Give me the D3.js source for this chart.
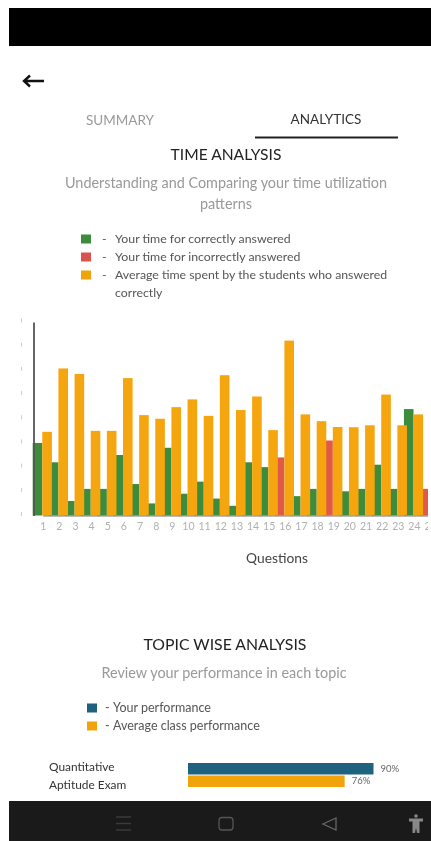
<!DOCTYPE html>
<html>
<head>
<meta charset="utf-8">
<script src="https://cdn.jsdelivr.net/npm/d3@7"></script>
<style>
  html, body { margin: 0; padding: 0; background: #fff; overflow: hidden; }
  svg { display: block; font-family: Lato, sans-serif; filter: blur(0.4px); }
</style>
</head>
<body>
<svg id="page" width="431" height="841"></svg>
<script>
var questions = d3.range(1, 26);
var yourTime = [3.0, 2.2, 0.6, 1.1, 1.1, 2.5, 1.3, 0.5, 2.8, 0.9, 1.4, 0.7, 0.4, 2.2, 2.0, 2.4, 0.8, 1.1, 3.1, 1.0, 1.1, 2.1, 1.1, 4.4, 1.1];
var answeredRight = [1, 1, 1, 1, 1, 1, 1, 1, 1, 1, 1, 1, 1, 1, 1, 0, 1, 1, 0, 1, 1, 1, 1, 1, 0];
var averageTime = [3.46, 6.08, 5.85, 3.5, 3.5, 5.68, 4.15, 4.0, 4.48, 4.8, 4.12, 5.8, 4.36, 4.92, 3.53, 7.23, 4.18, 3.9, 3.66, 3.65, 3.73, 5.0, 3.73, 4.18];
var yTicks = [0, 1, 2, 3, 4, 5, 6, 7, 8];

var timeLegend = [
  ["#3d8b3d", ["Your time for correctly answered"]],
  ["#d9534f", ["Your time for incorrectly answered"]],
  ["#f0a30a", ["Average time spent by the students who answered", "correctly"]]
];
var topicLegend = [
  ["#1f6280", "Your performance"],
  ["#f0a30a", "Average class performance"]
];
var topicNames = ["Quantitative", "Aptitude Exam"];
var topicValues = [90, 76];
var topicColors = ["#1f6280", "#f0a30a"];

var svg = d3.select("#page");

function label(x, y, str, size, color, anchor) {
  return svg.append("text")
    .attr("x", x)
    .attr("y", y)
    .attr("font-size", size)
    .attr("fill", color)
    .attr("text-anchor", anchor || "start")
    .text(str);
}

// phone chrome
svg.append("rect").attr("x", 9).attr("y", 8).attr("width", 422).attr("height", 38).attr("fill", "#000");
svg.append("rect").attr("x", 9).attr("y", 801).attr("width", 422).attr("height", 40).attr("fill", "#1a1a1a");

// back arrow
svg.append("path")
  .attr("d", "M44 81H24M30 75.5l-6 5.5 6 5.5")
  .attr("fill", "none")
  .attr("stroke", "#111")
  .attr("stroke-width", 2.4);

// tabs
label(120, 125, "SUMMARY", 13.5, "#999", "middle");
label(326, 124, "ANALYTICS", 13.5, "#333", "middle");
svg.append("rect").attr("x", 255).attr("y", 136.5).attr("width", 143).attr("height", 2).attr("fill", "#222");

label(226, 160, "TIME ANALYSIS", 15.6, "#222", "middle");
label(226, 188, "Understanding and Comparing your time utilization", 14.4, "#999", "middle");
label(226, 209, "patterns", 14.4, "#999", "middle");

// first legend
var legendY = [239, 257, 275];
timeLegend.forEach(function (d, i) {
  svg.append("rect").attr("x", 81).attr("y", legendY[i] - 4.5).attr("width", 10).attr("height", 9).attr("fill", d[0]);
  label(102, legendY[i] + 4, "-", 12.3, "#555");
  d[1].forEach(function (line, j) {
    label(115, legendY[i] + 4 + j * 18, line, 12.3, "#555");
  });
});

// time chart
var clip = svg.append("defs").append("clipPath").attr("id", "chartClip");
clip.append("rect").attr("x", 0).attr("y", 300).attr("width", 428).attr("height", 240);

var x = d3.scalePoint().domain(questions).range([42.7, 42.7 + 24 * 16.14]);
var y = d3.scaleLinear().domain([0, 8]).range([515.5, 322]);
var barW = 9.6;

var chart = svg.append("g").attr("clip-path", "url(#chartClip)");

chart.selectAll("rect.yours")
  .data(questions)
  .join("rect")
  .attr("class", "yours")
  .attr("x", function (q) { return x(q) - barW - 0.4; })
  .attr("y", function (q, i) { return y(yourTime[i]); })
  .attr("width", barW)
  .attr("height", function (q, i) { return y(0) - y(yourTime[i]); })
  .attr("fill", function (q, i) { return answeredRight[i] ? "#3d8b3d" : "#e05a47"; });

chart.selectAll("rect.average")
  .data(averageTime)
  .join("rect")
  .attr("class", "average")
  .attr("x", function (d, i) { return x(questions[i]) - 0.4; })
  .attr("y", function (d) { return y(d); })
  .attr("width", barW)
  .attr("height", function (d) { return y(0) - y(d); })
  .attr("fill", "#f5a50e");

var xAxis = chart.append("g")
  .attr("transform", "translate(0,515.5)")
  .call(d3.axisBottom(x).tickSize(0).tickPadding(7));
xAxis.select(".domain").attr("stroke", "#777").attr("stroke-width", 1.2);
xAxis.selectAll("text").attr("font-size", 10.5).attr("font-family", "Lato, sans-serif").attr("fill", "#b0b0b0");

var yAxis = svg.append("g")
  .attr("transform", "translate(33.5,0)")
  .call(d3.axisLeft(y).tickValues(yTicks).tickSize(0).tickFormat(""));
yAxis.select(".domain").attr("stroke", "#555").attr("stroke-width", 1.8);

svg.selectAll("rect.tickmark")
  .data(yTicks)
  .join("rect")
  .attr("class", "tickmark")
  .attr("x", 21)
  .attr("y", function (d) { return y(d) - 3.5; })
  .attr("width", 1)
  .attr("height", 4)
  .attr("fill", "#ccc");

label(277, 563, "Questions", 13.8, "#444", "middle");

// topic section
label(225, 650, "TOPIC WISE ANALYSIS", 15.8, "#222", "middle");
label(224, 678, "Review your performance in each topic", 14.4, "#999", "middle");

topicLegend.forEach(function (d, i) {
  var ly = 708 + i * 18;
  svg.append("rect").attr("x", 87).attr("y", ly - 4.5).attr("width", 10).attr("height", 9).attr("fill", d[0]);
  label(105, ly + 4, "-", 12.5, "#555");
  label(113, ly + 4, d[1], 12.5, "#555");
});

var topicX = d3.scaleLinear().domain([0, 90]).range([188, 373.5]);
var topicY = d3.scaleBand().domain(topicValues).range([763, 787]).paddingInner(0.08);

topicNames.forEach(function (n, i) {
  label(49, 771 + i * 18, n, 11.9, "#333");
});

svg.selectAll("rect.topic")
  .data(topicValues)
  .join("rect")
  .attr("class", "topic")
  .attr("x", topicX(0))
  .attr("y", function (d) { return topicY(d); })
  .attr("width", function (d) { return topicX(d) - topicX(0); })
  .attr("height", topicY.bandwidth())
  .attr("fill", function (d, i) { return topicColors[i]; });

svg.selectAll("text.topicValue")
  .data(topicValues)
  .join("text")
  .attr("class", "topicValue")
  .attr("x", function (d) { return topicX(d) + 7; })
  .attr("y", function (d, i) { return topicY(d) + (i ? 8 : 9); })
  .attr("font-size", 9.5)
  .attr("fill", "#666")
  .text(function (d) { return d + "%"; });

// nav icons
var icons = svg.append("g").attr("fill", "none").attr("stroke-width", 1.3);
icons.append("path").attr("stroke", "#3a3a3a").attr("d", "M116 817H131M116 823.5H131M116 830H131");
icons.append("rect").attr("stroke", "#555").attr("x", 219).attr("y", 817.5).attr("width", 14).attr("height", 12.5).attr("rx", 3);
icons.append("path").attr("stroke", "#666").attr("d", "M336 818L323 824L336 830Z");
svg.append("path")
  .attr("d", "M409 818.5H423V821.5H419.5V826L419.5 833H417L416 828L415 833H412.5L412.5 826V821.5H409Z")
  .attr("fill", "#888");
svg.append("circle").attr("cx", 416).attr("cy", 816).attr("r", 1.8).attr("fill", "#888");
</script>
</body>
</html>
